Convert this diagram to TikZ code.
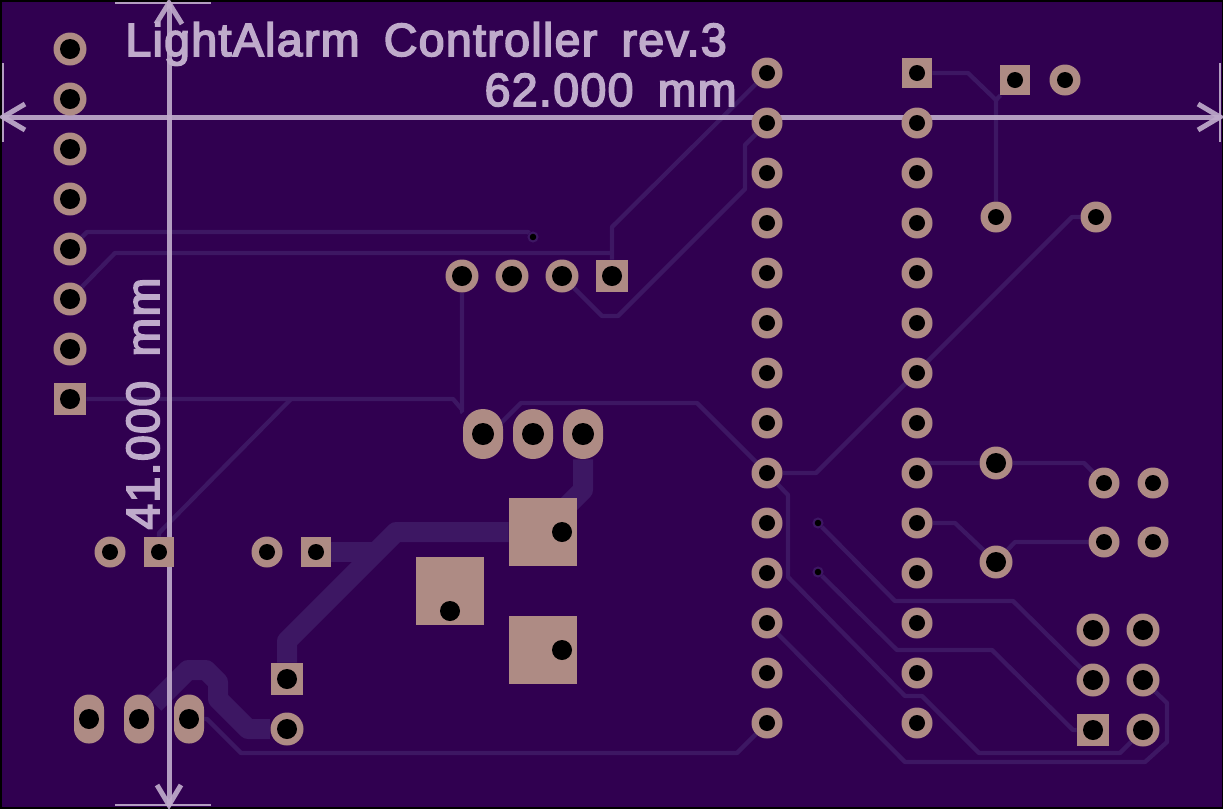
\documentclass[tikz,border=0pt]{standalone}
\usepackage{fontspec}
\newfontfamily\silkfont[LetterSpace=2.8,WordSpace=1.7,FakeBold=3.5]{Liberation Sans}
\usetikzlibrary{positioning}
\newcommand{\pxl}{0.02cm}
\definecolor{boardc}{HTML}{300050}
\definecolor{trackc}{HTML}{3D1763}
\definecolor{padc}{HTML}{AE8B84}
\definecolor{silkc}{HTML}{BFABCB}
\pgfdeclarelayer{tracks}
\pgfdeclarelayer{silk}
\pgfsetlayers{tracks,silk,main}
\tikzset{
  drill/.style={path picture={\fill[black] (path picture bounding box.center) circle[radius=#1*\pxl/2];}},
  pad/.style={circle,fill=padc,inner sep=0pt,minimum size=33*\pxl,drill=20},
  padsm/.style={circle,fill=padc,inner sep=0pt,minimum size=31*\pxl,drill=16},
  sqpad/.style={rectangle,fill=padc,inner sep=0pt,minimum size=32*\pxl,drill=20},
  sqpadsm/.style={rectangle,fill=padc,inner sep=0pt,minimum size=30*\pxl,drill=16},
  oval/.style={rectangle,rounded corners=14.9*\pxl,fill=padc,inner sep=0pt,minimum width=30*\pxl,minimum height=49*\pxl,drill=20},
  ovalbig/.style={rectangle,rounded corners=19.9*\pxl,fill=padc,inner sep=0pt,minimum width=40*\pxl,minimum height=50*\pxl,drill=22},
  bigpad/.style={rectangle,fill=padc,inner sep=0pt,minimum size=68*\pxl},
  bighole/.style={circle,fill=black,inner sep=0pt,minimum size=20*\pxl},
  via/.style={circle,fill=black,draw=trackc,line width=2*\pxl,inner sep=0pt,minimum size=9*\pxl},
  track/.style={draw=trackc,line width=4.3*\pxl,line join=round},
  power/.style={draw=trackc,line width=20*\pxl,line join=round},
  dim/.style={draw=silkc,opacity=.92,line width=5*\pxl},
  tick/.style={draw=silkc,opacity=.92,line width=1.8*\pxl},
  silktext/.style={text=silkc,inner sep=0pt,font=\silkfont\fontsize{26.5}{30}\selectfont}
}
\begin{document}
\begin{tikzpicture}[x=\pxl,y=-\pxl]
  \useasboundingbox (0,0) rectangle (1223,809);
  \begin{pgfonlayer}{tracks}
    \fill[black] (0,0) rectangle (1223,809);
    \fill[boardc] (2,2) rectangle (1222,807);
  \end{pgfonlayer}
  % left header
  \foreach \i in {1,...,7}
    \node[pad] (a\i) at (70,{49+50*(\i-1)}) {};
  \node[sqpad] (a8) at (70,399) {};
  % two long rows
  \foreach \i in {1,...,14}
    \node[padsm] (b\i) at (767,{73+50*(\i-1)}) {};
  \node[sqpadsm] (c1) at (917,73) {};
  \foreach \i in {2,...,14}
    \node[padsm] (c\i) at (917,{73+50*(\i-1)}) {};
  % top right
  \node[sqpadsm] (d1) at (1015,80) {};
  \node[padsm] (d2) at (1065,80) {};
  \node[padsm] (e1) at (996,217) {};
  \node[padsm] (e2) at (1096,217) {};
  \node[pad] (f1) at (996,463) {};
  \node[pad] (f2) at (996,562) {};
  \node[padsm] (g1) at (1104,483) {};
  \node[padsm] (g2) at (1153,483) {};
  \node[padsm] (g3) at (1104,542) {};
  \node[padsm] (g4) at (1153,542) {};
  % bottom right header
  \node[pad] (h1) at (1093,630) {};
  \node[pad] (h2) at (1143,630) {};
  \node[pad] (h3) at (1093,680) {};
  \node[pad] (h4) at (1143,680) {};
  \node[sqpad] (h5) at (1093,730) {};
  \node[pad] (h6) at (1143,730) {};
  % middle header
  \node[pad] (k1) at (462,276) {};
  \node[pad] (k2) at (512,276) {};
  \node[pad] (k3) at (562,276) {};
  \node[sqpad] (k4) at (612,276) {};
  \node[ovalbig] (m1) at (483,434) {};
  \node[ovalbig] (m2) at (533,434) {};
  \node[ovalbig] (m3) at (583,434) {};
  \coordinate (m1b) at (483,441);
  % big pads
  \node[bigpad] (q1) at (543,532) {};
  \node[bigpad] (q2) at (450,591) {};
  \node[bigpad] (q3) at (543,650) {};
  \node[bighole] (q1h) at (562,532) {};
  \node[bighole] (q2h) at (450,611) {};
  \node[bighole] (q3h) at (562,650) {};
  \coordinate (q1t) at (553,520);
  % small pairs
  \node[padsm] (n1) at (110,552) {};
  \node[sqpadsm] (n2) at (159,552) {};
  \node[padsm] (n3) at (267,552) {};
  \node[sqpadsm] (n4) at (316,552) {};
  \node[sqpad] (r1) at (287,679) {};
  \node[pad] (r2) at (287,729) {};
  \node[oval] (s1) at (89,719) {};
  \node[oval] (s2) at (139,719) {};
  \node[oval] (s3) at (189,719) {};
  % vias
  \node[via] (v1) at (533,237) {};
  \node[via] (v2) at (818,523) {};
  \node[via] (v3) at (818,572) {};
  \begin{pgfonlayer}{tracks}
    \draw[track] (a5) -- (87,232) -- (528,232) -- (v1);
    \draw[track] (a6) -- (115,253) -- (612,253);
    \draw[track] (k4) -- (612,227) -- (b1);
    \draw[track] (k3) -- (602,316) -- (618,316) -- (745,189) -- (745,145) -- (b2);
    \draw[track] (k1) -- (462,412) -- (m1);
    \draw[track] (a8) -- (453,399) -- (m1);
    \draw[track] (291,399) -- (159,533) -- (n2);
    \draw[track] (m1b) -- (521,403) -- (697,403) -- (b9);
    \draw[track] (b9) -- (788,495) -- (788,577) -- (905,696) -- (922,696) -- (979,753) -- (1120,753) -- (h6);
    \draw[track] (b9) -- (816,473) -- (1072,217) -- (e2);
    \draw[track] (b12) -- (905,762) -- (1145,762) -- (1167,742) -- (1167,703) -- (h4);
    \draw[track] (v2) -- (895,601) -- (1013,601) -- (h3);
    \draw[track] (v3) -- (897,650) -- (992,650) -- (1073,730) -- (h5);
    \draw[track] (c9) -- (927,463) -- (f1);
    \draw[track] (f1) -- (1084,463) -- (g1);
    \draw[track] (c10) -- (955,523) -- (f2);
    \draw[track] (f2) -- (1015,542) -- (g3);
    \draw[track] (c1) -- (968,73) -- (996,100) -- (e1);
    \draw[track] (996,100) -- (d1);
    \draw[track] (b14) -- (737,753) -- (241,753) -- (207,719) -- (s3);
    \draw[power] (r1) -- (287,641) -- (396,532) -- (q1);
    \draw[power] (n4) -- (376,552);
    \draw[power] (m3) -- (583,490) -- (q1t);
    \draw[power] (s2) -- (188,670) -- (206,670) -- (218,682) -- (218,699) -- (248,729) -- (r2);
  \end{pgfonlayer}
  \begin{pgfonlayer}{silk}
    \draw[dim] (3,117) -- (1220,117);
    \draw[dim] (25,104) -- (3,117) -- (25,130);
    \draw[dim] (1198,104) -- (1220,117) -- (1198,130);
    \draw[dim] (169,3) -- (169,805);
    \draw[dim] (156,24) -- (169,3) -- (182,24);
    \draw[dim] (157,785) -- (169,805) -- (181,785);
    \draw[tick] (3,63) -- (3,142);
    \draw[tick] (1220,63) -- (1220,142);
    \draw[tick] (115,3) -- (211,3);
    \draw[tick] (115,805) -- (211,805);
    \node[silktext,anchor=base west] (title) at (125,56) {LightAlarm Controller rev.3};
    \node[silktext,anchor=base east] (width) at (737,106) {62.000 mm};
    \node[silktext,anchor=base west,rotate=90] (height) at (159,530) {41.000 mm};
  \end{pgfonlayer}
\end{tikzpicture}
\end{document}
